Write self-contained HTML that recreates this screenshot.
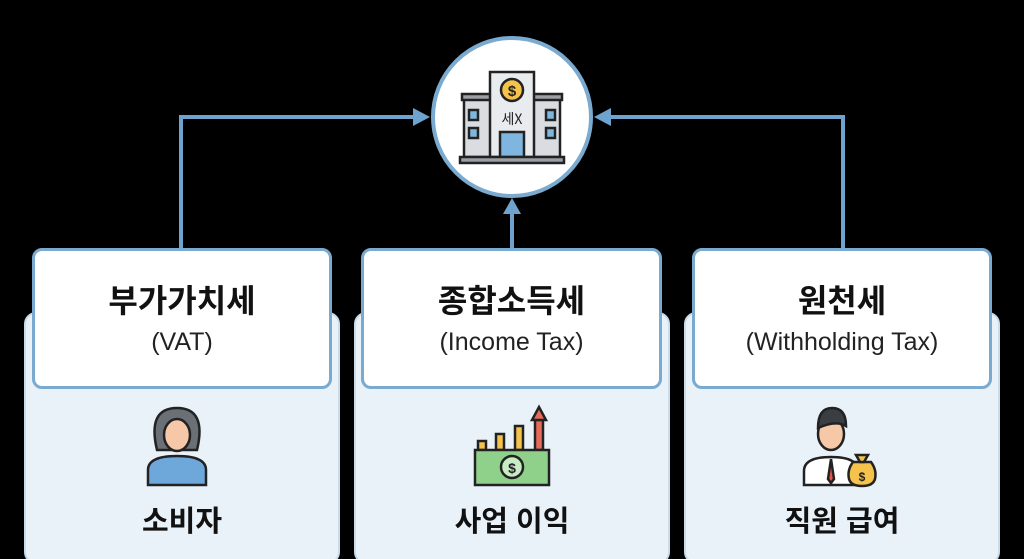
<!DOCTYPE html>
<html><head><meta charset="utf-8"><style>
html,body{margin:0;width:1024px;height:559px;overflow:hidden}
body{background:#000;position:relative;font-family:"Liberation Sans","Noto Sans CJK KR",sans-serif}
.panel{position:absolute;top:312px;height:252px;background:#e9f2f9;border:2px solid #c9dcec;border-radius:12px;box-sizing:border-box}
.box{position:absolute;top:248px;height:141px;background:#fff;border:3px solid #7aaad0;border-radius:10px;box-sizing:border-box;text-align:center}
.t1{font-size:32px;font-weight:bold;color:#111;margin-top:32px;line-height:36px}
.t2{font-size:25px;color:#222;margin-top:9px;line-height:28px}
.lab{position:absolute;top:498px;font-size:29px;font-weight:bold;color:#111;text-align:center}
svg{position:absolute;left:0;top:0}
</style></head><body>
<svg width="1024" height="559">
<g stroke="#6fa3cf" stroke-width="4" fill="none">
<polyline points="181,248 181,117 415,117"/>
<polyline points="843,248 843,117 609,117"/>
<line x1="512" y1="248" x2="512" y2="212"/>
</g>
<g fill="#6fa3cf">
<polygon points="430,117 413,108 413,126"/>
<polygon points="594,117 611,108 611,126"/>
<polygon points="512,198 503,214 521,214"/>
</g>
<circle cx="512" cy="117" r="79" fill="#fff" stroke="#7aaad0" stroke-width="4"/>
<g stroke="#222" stroke-width="2.5">
<rect x="464" y="97" width="28" height="60" fill="#d9dde2"/>
<rect x="532" y="97" width="28" height="60" fill="#d9dde2"/>
<rect x="462" y="94" width="32" height="6" fill="#9aa0a6"/>
<rect x="530" y="94" width="32" height="6" fill="#9aa0a6"/>
<rect x="490" y="72" width="44" height="85" fill="#e9ecef"/>
<circle cx="512" cy="90" r="11" fill="#f5c24c"/>
<rect x="500" y="132" width="24" height="25" fill="#7fb6e0"/>
<rect x="469" y="110" width="9" height="10" fill="#7fb6e0"/>
<rect x="469" y="128" width="9" height="10" fill="#7fb6e0"/>
<rect x="546" y="110" width="9" height="10" fill="#7fb6e0"/>
<rect x="546" y="128" width="9" height="10" fill="#7fb6e0"/>
<rect x="460" y="157" width="104" height="6" fill="#9aa0a6"/>
</g>
<text x="512" y="96" font-size="15" font-weight="bold" text-anchor="middle" fill="#222">$</text>
<text x="512" y="124" font-size="14" text-anchor="middle" fill="#222" font-family="Noto Sans CJK KR,sans-serif">세X</text>
</svg>
<div class="panel" style="left:24px;width:316px"></div>
<div class="panel" style="left:354px;width:316px"></div>
<div class="panel" style="left:684px;width:316px"></div>
<svg width="1024" height="559">
<g stroke="#222" stroke-width="2.5">
<path d="M157,450 q-10,-42 20,-42 q30,0 20,42 z" fill="#6b6f76"/>
<ellipse cx="177" cy="435" rx="13" ry="16" fill="#f6c8a8"/>
<path d="M148,485 v-15 q0,-14 29,-14 q29,0 29,14 v15 z" fill="#6ea8da"/>
</g>
<g stroke="#222" stroke-width="2.5">
<rect x="478" y="441" width="8" height="9" fill="#f5c24c"/>
<rect x="496" y="434" width="8" height="16" fill="#f5c24c"/>
<rect x="515" y="426" width="8" height="24" fill="#f5c24c"/>
<rect x="535" y="420" width="8" height="30" fill="#e96a5a"/>
<polygon points="532,420 546,420 539,407" fill="#e96a5a"/>
<rect x="475" y="450" width="74" height="35" fill="#8fd08a"/>
<circle cx="512" cy="467" r="11" fill="#c8ecc4"/>
</g>
<text x="512" y="473" font-size="14" font-weight="bold" text-anchor="middle" fill="#222">$</text>
<g stroke="#222" stroke-width="2.5">
<ellipse cx="831" cy="434" rx="13" ry="16" fill="#f6c8a8"/>
<path d="M818,428 q0,-20 14,-20 q14,0 14,18 q-10,-6 -28,2 z" fill="#3a3d42"/>
<path d="M804,485 v-14 q0,-14 27,-14 q27,0 27,14 v14 z" fill="#fff"/>
<path d="M831,459 l-3,20 l3,4 l3,-4 z" fill="#e0544a"/>
<path d="M853,462 q-6,8 -4,17 q2,7 13,7 q11,0 13,-7 q2,-9 -4,-17 z" fill="#f5c24c"/>
<path d="M856,455 l12,0 l-4,7 l-4,0 z" fill="#f5c24c"/>
</g>
<text x="862" y="481" font-size="12" font-weight="bold" text-anchor="middle" fill="#222">$</text>
</svg>
<div class="box" style="left:32px;width:300px"><div class="t1">부가가치세</div><div class="t2">(VAT)</div></div>
<div class="box" style="left:361px;width:301px"><div class="t1">종합소득세</div><div class="t2">(Income Tax)</div></div>
<div class="box" style="left:692px;width:300px"><div class="t1">원천세</div><div class="t2">(Withholding Tax)</div></div>
<div class="lab" style="left:24px;width:316px">소비자</div>
<div class="lab" style="left:354px;width:316px">사업 이익</div>
<div class="lab" style="left:684px;width:316px">직원 급여</div>
</body></html>
